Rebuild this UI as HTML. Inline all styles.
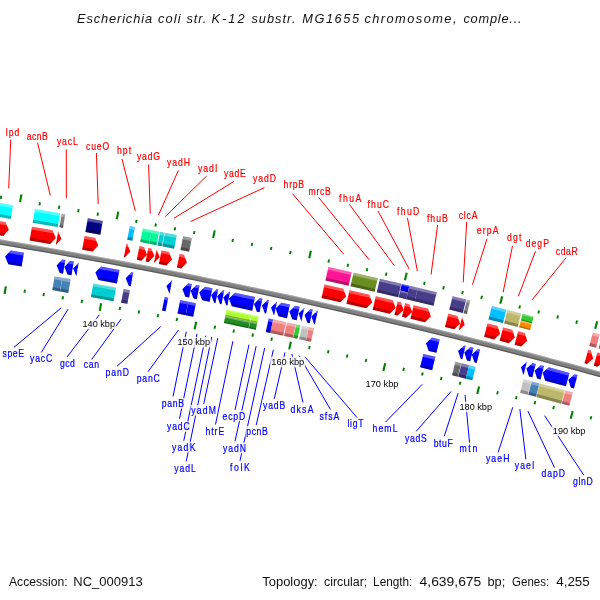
<!DOCTYPE html>
<html><head><meta charset="utf-8"><title>CGView map</title>
<style>html,body{margin:0;padding:0;background:#fff}svg{display:block}</style></head>
<body><svg width="600" height="600" viewBox="0 0 600 600">
<defs><mask id="m" maskUnits="userSpaceOnUse" x="0" y="0" width="600" height="600"><rect width="600" height="600" fill="#fff"/></mask></defs>
<rect width="600" height="600" fill="#fff"/>
<polygon points="-20.24,235.99 -3.58,238.73 13.07,241.51 29.71,244.35 46.34,247.23 62.96,250.16 79.58,253.13 96.18,256.16 112.78,259.23 129.37,262.35 145.95,265.51 162.52,268.72 179.08,271.98 195.63,275.29 212.18,278.64 228.71,282.04 245.23,285.49 261.75,288.99 278.25,292.53 294.74,296.12 311.23,299.76 327.70,303.44 344.16,307.17 360.61,310.95 377.05,314.77 393.48,318.64 409.90,322.56 426.31,326.52 442.70,330.54 459.09,334.59 475.46,338.70 491.82,342.85 508.17,347.05 524.51,351.29 540.83,355.58 557.15,359.92 573.45,364.30 589.73,368.73 606.01,373.21 622.27,377.73 620.82,382.93 604.57,378.41 588.31,373.94 572.04,369.52 555.75,365.14 539.45,360.80 523.14,356.52 506.82,352.28 490.49,348.08 474.14,343.93 457.78,339.83 441.41,335.78 425.03,331.77 408.64,327.81 392.24,323.90 375.82,320.03 359.40,316.21 342.96,312.44 326.51,308.71 310.06,305.03 293.59,301.40 277.11,297.81 260.62,294.27 244.12,290.78 227.61,287.33 211.10,283.93 194.57,280.58 178.03,277.28 161.49,274.02 144.93,270.81 128.36,267.65 111.79,264.54 95.21,261.47 78.62,258.45 62.02,255.47 45.41,252.55 28.79,249.67 12.17,246.84 -4.46,244.05 -21.11,241.32" fill="#808080"/>
<polygon points="-20.24,235.99 -3.58,238.73 13.07,241.51 29.71,244.35 46.34,247.23 62.96,250.16 79.58,253.13 96.18,256.16 112.78,259.23 129.37,262.35 145.95,265.51 162.52,268.72 179.08,271.98 195.63,275.29 212.18,278.64 228.71,282.04 245.23,285.49 261.75,288.99 278.25,292.53 294.74,296.12 311.23,299.76 327.70,303.44 344.16,307.17 360.61,310.95 377.05,314.77 393.48,318.64 409.90,322.56 426.31,326.52 442.70,330.54 459.09,334.59 475.46,338.70 491.82,342.85 508.17,347.05 524.51,351.29 540.83,355.58 557.15,359.92 573.45,364.30 589.73,368.73 606.01,373.21 622.27,377.73 621.97,378.79 605.72,374.27 589.44,369.79 573.16,365.36 556.86,360.98 540.55,356.65 524.23,352.36 507.90,348.11 491.55,343.91 475.19,339.76 458.82,335.66 442.44,331.60 426.05,327.59 409.64,323.63 393.23,319.71 376.80,315.84 360.37,312.02 343.92,308.24 327.46,304.51 310.99,300.83 294.51,297.19 278.02,293.61 261.52,290.06 245.01,286.57 228.49,283.12 211.96,279.72 195.42,276.37 178.87,273.06 162.31,269.80 145.74,266.59 129.16,263.43 112.58,260.31 95.98,257.24 79.38,254.22 62.77,251.24 46.15,248.31 29.52,245.43 12.88,242.60 -3.76,239.81 -20.41,237.07" fill="#fff" fill-opacity="0.3"/>
<polygon points="-20.90,240.03 -4.25,242.77 12.38,245.56 29.01,248.39 45.63,251.27 62.24,254.19 78.85,257.17 95.44,260.19 112.03,263.26 128.61,266.37 145.17,269.54 161.73,272.75 178.28,276.00 194.83,279.31 211.36,282.66 227.88,286.06 244.39,289.51 260.89,293.00 277.38,296.54 293.87,300.13 310.34,303.76 326.80,307.44 343.25,311.17 359.69,314.94 376.12,318.76 392.54,322.63 408.94,326.55 425.34,330.51 441.72,334.52 458.10,338.57 474.46,342.67 490.81,346.82 507.15,351.02 523.47,355.26 539.79,359.55 556.09,363.88 572.38,368.26 588.65,372.69 604.92,377.16 621.17,381.68 620.82,382.93 604.57,378.41 588.31,373.94 572.04,369.52 555.75,365.14 539.45,360.80 523.14,356.52 506.82,352.28 490.49,348.08 474.14,343.93 457.78,339.83 441.41,335.78 425.03,331.77 408.64,327.81 392.24,323.90 375.82,320.03 359.40,316.21 342.96,312.44 326.51,308.71 310.06,305.03 293.59,301.40 277.11,297.81 260.62,294.27 244.12,290.78 227.61,287.33 211.10,283.93 194.57,280.58 178.03,277.28 161.49,274.02 144.93,270.81 128.36,267.65 111.79,264.54 95.21,261.47 78.62,258.45 62.02,255.47 45.41,252.55 28.79,249.67 12.17,246.84 -4.46,244.05 -21.11,241.32" fill="#000" fill-opacity="0.3"/>
<polygon points="-3.75,220.71 5.53,222.25 8.84,229.82 3.25,235.91 -6.01,234.37" fill="#ff0000"/>
<polygon points="-3.75,220.71 5.53,222.25 6.93,225.43 -4.23,223.58" fill="#fff" fill-opacity="0.32"/>
<polygon points="-6.01,234.37 3.25,235.91 5.60,233.35 -5.54,231.50" fill="#000" fill-opacity="0.28"/>
<polygon points="-0.81,202.95 12.97,205.24 10.67,218.90 -3.07,216.61" fill="#00ffff"/>
<polygon points="-0.81,202.95 12.97,205.24 12.49,208.11 -1.29,205.82" fill="#fff" fill-opacity="0.32"/>
<polygon points="-2.60,213.74 11.16,216.03 10.67,218.90 -3.07,216.61" fill="#000" fill-opacity="0.28"/>
<polygon points="31.97,226.72 52.55,230.29 55.79,237.90 50.16,243.94 29.62,240.38" fill="#ff0000"/>
<polygon points="31.97,226.72 52.55,230.29 53.91,233.49 31.47,229.59" fill="#fff" fill-opacity="0.32"/>
<polygon points="29.62,240.38 50.16,243.94 52.52,241.40 30.12,237.51" fill="#000" fill-opacity="0.28"/>
<polygon points="35.01,208.98 60.12,213.35 57.71,226.99 32.67,222.63" fill="#00ffff"/>
<polygon points="35.01,208.98 60.12,213.35 59.61,216.21 34.52,211.85" fill="#fff" fill-opacity="0.32"/>
<polygon points="33.16,219.77 58.22,224.12 57.71,226.99 32.67,222.63" fill="#000" fill-opacity="0.28"/>
<polygon points="58.21,231.29 61.45,238.89 55.81,244.93" fill="#ff0000"/>
<polygon points="58.21,231.29 58.21,231.29 59.57,234.48 57.71,234.15" fill="#fff" fill-opacity="0.32"/>
<polygon points="55.81,244.93 55.81,244.93 58.17,242.39 56.31,242.07" fill="#000" fill-opacity="0.28"/>
<polygon points="61.82,213.65 65.31,214.27 62.90,227.90 59.41,227.29" fill="#808080"/>
<polygon points="61.82,213.65 65.31,214.27 64.81,217.13 61.31,216.51" fill="#fff" fill-opacity="0.32"/>
<polygon points="59.92,224.42 63.41,225.04 62.90,227.90 59.41,227.29" fill="#000" fill-opacity="0.28"/>
<polygon points="84.64,236.01 95.12,237.92 98.31,245.54 92.62,251.54 82.17,249.64" fill="#ff0000"/>
<polygon points="84.64,236.01 95.12,237.92 96.46,241.12 84.12,238.87" fill="#fff" fill-opacity="0.32"/>
<polygon points="82.17,249.64 92.62,251.54 95.01,249.02 82.69,246.78" fill="#000" fill-opacity="0.28"/>
<polygon points="87.85,218.30 102.81,221.02 100.31,234.65 85.38,231.93" fill="#000080"/>
<polygon points="87.85,218.30 102.81,221.02 102.28,223.89 87.33,221.16" fill="#fff" fill-opacity="0.32"/>
<polygon points="85.90,229.06 100.83,231.79 100.31,234.65 85.38,231.93" fill="#000" fill-opacity="0.28"/>
<polygon points="126.46,243.73 127.18,243.87 130.33,251.51 124.61,257.48 123.90,257.34" fill="#ff0000"/>
<polygon points="126.46,243.73 127.18,243.87 128.50,247.08 125.93,246.59" fill="#fff" fill-opacity="0.32"/>
<polygon points="123.90,257.34 124.61,257.48 127.01,254.97 124.44,254.49" fill="#000" fill-opacity="0.28"/>
<polygon points="129.80,226.04 134.96,227.02 132.39,240.63 127.23,239.65" fill="#00bfff"/>
<polygon points="129.80,226.04 134.96,227.02 134.42,229.88 129.26,228.90" fill="#fff" fill-opacity="0.32"/>
<polygon points="127.77,236.80 132.93,237.77 132.39,240.63 127.23,239.65" fill="#000" fill-opacity="0.28"/>
<polygon points="139.42,246.19 143.88,247.04 147.01,254.69 141.28,260.64 136.83,259.79" fill="#ff0000"/>
<polygon points="139.42,246.19 143.88,247.04 145.20,250.25 138.88,249.04" fill="#fff" fill-opacity="0.32"/>
<polygon points="136.83,259.79 141.28,260.64 143.68,258.14 137.37,256.94" fill="#000" fill-opacity="0.28"/>
<polygon points="142.79,228.51 151.71,230.21 149.10,243.81 140.20,242.11" fill="#00fa9a"/>
<polygon points="142.79,228.51 151.71,230.21 151.17,233.07 142.25,231.36" fill="#fff" fill-opacity="0.32"/>
<polygon points="140.74,239.25 149.65,240.96 149.10,243.81 140.20,242.11" fill="#000" fill-opacity="0.28"/>
<polygon points="148.29,247.88 151.25,248.45 154.37,256.11 148.63,262.05 145.67,261.49" fill="#ff0000"/>
<polygon points="148.29,247.88 151.25,248.45 152.56,251.67 147.74,250.74" fill="#fff" fill-opacity="0.32"/>
<polygon points="145.67,261.49 148.63,262.05 151.04,259.56 146.22,258.63" fill="#000" fill-opacity="0.28"/>
<polygon points="151.69,230.21 159.10,231.64 156.47,245.24 149.07,243.81" fill="#00fa9a"/>
<polygon points="151.69,230.21 159.10,231.64 158.55,234.49 151.14,233.06" fill="#fff" fill-opacity="0.32"/>
<polygon points="149.62,240.95 157.02,242.38 156.47,245.24 149.07,243.81" fill="#000" fill-opacity="0.28"/>
<polygon points="156.59,249.49 159.70,257.14 153.95,263.08" fill="#ff0000"/>
<polygon points="156.59,249.49 156.59,249.49 157.90,252.70 156.03,252.34" fill="#fff" fill-opacity="0.32"/>
<polygon points="153.95,263.08 153.95,263.08 156.37,260.59 154.51,260.23" fill="#000" fill-opacity="0.28"/>
<polygon points="160.11,231.83 164.35,232.66 161.71,246.25 157.48,245.43" fill="#00ced1"/>
<polygon points="160.11,231.83 164.35,232.66 163.80,235.51 159.56,234.69" fill="#fff" fill-opacity="0.32"/>
<polygon points="158.03,242.58 162.26,243.40 161.71,246.25 157.48,245.43" fill="#000" fill-opacity="0.28"/>
<polygon points="161.53,250.45 168.90,251.88 171.99,259.55 166.24,265.48 158.89,264.04" fill="#ff0000"/>
<polygon points="161.53,250.45 168.90,251.88 170.20,255.10 160.98,253.30" fill="#fff" fill-opacity="0.32"/>
<polygon points="158.89,264.04 166.24,265.48 168.65,262.99 159.44,261.19" fill="#000" fill-opacity="0.28"/>
<polygon points="164.97,232.78 176.80,235.09 174.13,248.68 162.32,246.37" fill="#00ced1"/>
<polygon points="164.97,232.78 176.80,235.09 176.24,237.95 164.41,235.63" fill="#fff" fill-opacity="0.32"/>
<polygon points="162.88,243.52 174.69,245.83 174.13,248.68 162.32,246.37" fill="#000" fill-opacity="0.28"/>
<polygon points="179.64,254.00 183.87,254.84 186.94,262.51 181.17,268.42 176.96,267.59" fill="#ff0000"/>
<polygon points="179.64,254.00 183.87,254.84 185.16,258.06 179.08,256.85" fill="#fff" fill-opacity="0.32"/>
<polygon points="176.96,267.59 181.17,268.42 183.60,265.94 177.52,264.73" fill="#000" fill-opacity="0.28"/>
<polygon points="183.14,236.34 191.82,238.06 189.11,251.65 180.45,249.93" fill="#696969"/>
<polygon points="183.14,236.34 191.82,238.06 191.25,240.92 182.57,239.19" fill="#fff" fill-opacity="0.32"/>
<polygon points="181.01,247.07 189.68,248.80 189.11,251.65 180.45,249.93" fill="#000" fill-opacity="0.28"/>
<polygon points="324.52,284.54 343.30,288.77 346.16,296.52 340.23,302.27 321.50,298.05" fill="#ff0000"/>
<polygon points="324.52,284.54 343.30,288.77 344.50,292.03 323.89,287.37" fill="#fff" fill-opacity="0.32"/>
<polygon points="321.50,298.05 340.23,302.27 342.72,299.86 322.13,295.21" fill="#000" fill-opacity="0.28"/>
<polygon points="328.46,266.97 351.70,272.22 348.62,285.73 325.43,280.49" fill="#ff1493"/>
<polygon points="328.46,266.97 351.70,272.22 351.05,275.06 327.82,269.81" fill="#fff" fill-opacity="0.32"/>
<polygon points="326.07,277.65 349.27,282.89 348.62,285.73 325.43,280.49" fill="#000" fill-opacity="0.28"/>
<polygon points="349.57,290.20 369.32,294.74 372.15,302.51 366.19,308.24 346.49,303.70" fill="#ff0000"/>
<polygon points="349.57,290.20 369.32,294.74 370.51,298.01 348.92,293.03" fill="#fff" fill-opacity="0.32"/>
<polygon points="346.49,303.70 366.19,308.24 368.70,305.83 347.13,300.86" fill="#000" fill-opacity="0.28"/>
<polygon points="353.58,272.65 377.80,278.24 374.66,291.72 350.49,286.15" fill="#6b8e23"/>
<polygon points="353.58,272.65 377.80,278.24 377.14,281.07 352.93,275.49" fill="#fff" fill-opacity="0.32"/>
<polygon points="351.14,283.32 375.32,288.89 374.66,291.72 350.49,286.15" fill="#000" fill-opacity="0.28"/>
<polygon points="375.82,296.25 392.78,300.24 395.58,308.01 389.60,313.72 372.67,309.74" fill="#ff0000"/>
<polygon points="375.82,296.25 392.78,300.24 393.96,303.50 375.16,299.09" fill="#fff" fill-opacity="0.32"/>
<polygon points="372.67,309.74 389.60,313.72 392.11,311.32 373.33,306.91" fill="#000" fill-opacity="0.28"/>
<polygon points="379.90,278.73 401.33,283.76 398.13,297.24 376.76,292.21" fill="#483d8b"/>
<polygon points="379.90,278.73 401.33,283.76 400.66,286.59 379.24,281.56" fill="#fff" fill-opacity="0.32"/>
<polygon points="377.42,289.38 398.80,294.41 398.13,297.24 376.76,292.21" fill="#000" fill-opacity="0.28"/>
<polygon points="397.66,301.39 400.85,302.15 403.64,309.93 397.65,315.62 394.47,314.87" fill="#ff0000"/>
<polygon points="397.66,301.39 400.85,302.15 402.02,305.42 396.99,304.22" fill="#fff" fill-opacity="0.32"/>
<polygon points="394.47,314.87 397.65,315.62 400.16,313.23 395.14,312.04" fill="#000" fill-opacity="0.28"/>
<polygon points="401.81,283.88 409.42,285.69 407.82,292.42 400.22,290.61" fill="#0000ff"/>
<polygon points="401.81,283.88 409.42,285.69 409.08,287.10 401.48,285.29" fill="#fff" fill-opacity="0.32"/>
<polygon points="400.55,289.20 408.15,291.01 407.82,292.42 400.22,290.61" fill="#000" fill-opacity="0.28"/>
<polygon points="400.22,290.61 407.82,292.42 406.21,299.16 398.62,297.35" fill="#483d8b"/>
<polygon points="400.22,290.61 407.82,292.42 407.48,293.84 399.88,292.03" fill="#fff" fill-opacity="0.32"/>
<polygon points="398.95,295.94 406.55,297.74 406.21,299.16 398.62,297.35" fill="#000" fill-opacity="0.28"/>
<polygon points="405.25,303.19 409.32,304.17 412.10,311.95 406.10,317.64 402.03,316.67" fill="#ff0000"/>
<polygon points="405.25,303.19 409.32,304.17 410.49,307.44 404.57,306.02" fill="#fff" fill-opacity="0.32"/>
<polygon points="402.03,316.67 406.10,317.64 408.62,315.25 402.71,313.84" fill="#000" fill-opacity="0.28"/>
<polygon points="409.42,285.69 417.91,287.72 414.68,301.19 406.21,299.16" fill="#483d8b"/>
<polygon points="409.42,285.69 417.91,287.72 417.24,290.55 408.75,288.51" fill="#fff" fill-opacity="0.32"/>
<polygon points="406.88,296.33 415.36,298.36 414.68,301.19 406.21,299.16" fill="#000" fill-opacity="0.28"/>
<polygon points="413.68,305.21 428.14,308.70 430.89,316.50 424.87,322.16 410.45,318.68" fill="#ff0000"/>
<polygon points="413.68,305.21 428.14,308.70 429.30,311.98 413.01,308.04" fill="#fff" fill-opacity="0.32"/>
<polygon points="410.45,318.68 424.87,322.16 427.40,319.78 411.13,315.85" fill="#000" fill-opacity="0.28"/>
<polygon points="417.89,287.71 436.79,292.28 433.51,305.74 414.65,301.18" fill="#483d8b"/>
<polygon points="417.89,287.71 436.79,292.28 436.10,295.11 417.21,290.54" fill="#fff" fill-opacity="0.32"/>
<polygon points="415.33,298.35 434.20,302.91 433.51,305.74 414.65,301.18" fill="#000" fill-opacity="0.28"/>
<polygon points="448.33,313.64 457.44,315.89 460.15,323.70 454.10,329.34 445.02,327.09" fill="#ff0000"/>
<polygon points="448.33,313.64 457.44,315.89 458.58,319.17 447.63,316.46" fill="#fff" fill-opacity="0.32"/>
<polygon points="445.02,327.09 454.10,329.34 456.64,326.97 445.71,324.26" fill="#000" fill-opacity="0.28"/>
<polygon points="452.64,296.16 466.17,299.51 462.82,312.95 449.32,309.61" fill="#483d8b"/>
<polygon points="452.64,296.16 466.17,299.51 465.47,302.34 451.94,298.99" fill="#fff" fill-opacity="0.32"/>
<polygon points="450.02,306.79 463.53,310.13 462.82,312.95 449.32,309.61" fill="#000" fill-opacity="0.28"/>
<polygon points="462.04,317.04 464.74,324.85 458.70,330.48" fill="#ff0000"/>
<polygon points="462.04,317.04 462.04,317.04 463.18,320.32 461.34,319.86" fill="#fff" fill-opacity="0.32"/>
<polygon points="458.70,330.48 458.70,330.48 461.23,328.11 459.40,327.65" fill="#000" fill-opacity="0.28"/>
<polygon points="466.95,299.71 470.22,300.53 466.87,313.96 463.60,313.15" fill="#808080"/>
<polygon points="466.95,299.71 470.22,300.53 469.52,303.35 466.25,302.53" fill="#fff" fill-opacity="0.32"/>
<polygon points="464.31,310.33 467.57,311.14 466.87,313.96 463.60,313.15" fill="#000" fill-opacity="0.28"/>
<polygon points="487.52,323.44 497.53,325.99 500.18,333.81 494.10,339.40 484.12,336.86" fill="#ff0000"/>
<polygon points="487.52,323.44 497.53,325.99 498.64,329.27 486.81,326.26" fill="#fff" fill-opacity="0.32"/>
<polygon points="484.12,336.86 494.10,339.40 496.65,337.06 484.83,334.04" fill="#000" fill-opacity="0.28"/>
<polygon points="491.95,305.99 506.37,309.67 502.93,323.09 488.54,319.42" fill="#00bfff"/>
<polygon points="491.95,305.99 506.37,309.67 505.65,312.49 491.23,308.81" fill="#fff" fill-opacity="0.32"/>
<polygon points="489.26,316.60 503.65,320.27 502.93,323.09 488.54,319.42" fill="#000" fill-opacity="0.28"/>
<polygon points="503.13,327.42 512.25,329.77 514.88,337.60 508.79,343.18 499.69,340.84" fill="#ff0000"/>
<polygon points="503.13,327.42 512.25,329.77 513.36,333.06 502.41,330.24" fill="#fff" fill-opacity="0.32"/>
<polygon points="499.69,340.84 508.79,343.18 511.35,340.83 500.41,338.02" fill="#000" fill-opacity="0.28"/>
<polygon points="507.60,309.99 521.13,313.47 517.66,326.88 504.16,323.40" fill="#bdb76b"/>
<polygon points="507.60,309.99 521.13,313.47 520.40,316.29 506.88,312.80" fill="#fff" fill-opacity="0.32"/>
<polygon points="504.89,320.58 518.39,324.06 517.66,326.88 504.16,323.40" fill="#000" fill-opacity="0.28"/>
<polygon points="518.09,331.28 524.67,332.99 527.29,340.83 521.18,346.39 514.61,344.68" fill="#ff0000"/>
<polygon points="518.09,331.28 524.67,332.99 525.77,336.28 517.36,334.09" fill="#fff" fill-opacity="0.32"/>
<polygon points="514.61,344.68 521.18,346.39 523.74,344.05 515.34,341.87" fill="#000" fill-opacity="0.28"/>
<polygon points="522.61,313.85 533.59,316.71 531.84,323.41 520.87,320.56" fill="#32cd32"/>
<polygon points="522.61,313.85 533.59,316.71 533.22,318.12 522.24,315.26" fill="#fff" fill-opacity="0.32"/>
<polygon points="521.23,319.15 532.21,322.01 531.84,323.41 520.87,320.56" fill="#000" fill-opacity="0.28"/>
<polygon points="520.87,320.56 531.84,323.41 530.09,330.11 519.13,327.26" fill="#ff8c00"/>
<polygon points="520.87,320.56 531.84,323.41 531.47,324.82 520.50,321.97" fill="#fff" fill-opacity="0.32"/>
<polygon points="519.49,325.85 530.46,328.71 530.09,330.11 519.13,327.26" fill="#000" fill-opacity="0.28"/>
<polygon points="588.15,349.90 590.63,350.58 593.16,358.45 586.99,363.94 584.51,363.26" fill="#ff0000"/>
<polygon points="588.15,349.90 590.63,350.58 591.70,353.88 587.38,352.71" fill="#fff" fill-opacity="0.32"/>
<polygon points="584.51,363.26 586.99,363.94 589.58,361.63 585.27,360.46" fill="#000" fill-opacity="0.28"/>
<polygon points="592.88,332.53 599.74,334.41 596.08,347.77 589.24,345.90" fill="#f08080"/>
<polygon points="592.88,332.53 599.74,334.41 598.97,337.21 592.11,335.34" fill="#fff" fill-opacity="0.32"/>
<polygon points="590.00,343.09 596.85,344.96 596.08,347.77 589.24,345.90" fill="#000" fill-opacity="0.28"/>
<polygon points="597.42,352.44 601.10,353.44 603.61,361.32 597.43,366.80 593.76,365.79" fill="#ff0000"/>
<polygon points="597.42,352.44 601.10,353.44 602.15,356.75 596.65,355.24" fill="#fff" fill-opacity="0.32"/>
<polygon points="593.76,365.79 597.43,366.80 600.02,364.50 594.53,362.99" fill="#000" fill-opacity="0.28"/>
<polygon points="602.18,335.08 610.23,337.29 606.55,350.64 598.52,348.43" fill="#f08080"/>
<polygon points="602.18,335.08 610.23,337.29 609.46,340.09 601.41,337.88" fill="#fff" fill-opacity="0.32"/>
<polygon points="599.29,345.63 607.32,347.84 606.55,350.64 598.52,348.43" fill="#000" fill-opacity="0.28"/>
<polygon points="23.98,252.80 10.63,250.53 5.05,256.62 8.32,264.19 21.65,266.45" fill="#0000ff"/>
<polygon points="23.98,252.80 10.63,250.53 8.28,253.09 23.49,255.67" fill="#fff" fill-opacity="0.32"/>
<polygon points="21.65,266.45 8.32,264.19 6.95,261.01 22.14,263.59" fill="#000" fill-opacity="0.28"/>
<polygon points="65.44,260.04 62.25,259.48 56.62,265.51 59.83,273.11 63.01,273.68" fill="#0000ff"/>
<polygon points="65.44,260.04 62.25,259.48 59.89,262.01 64.93,262.91" fill="#fff" fill-opacity="0.32"/>
<polygon points="63.01,273.68 59.83,273.11 58.48,269.92 63.52,270.82" fill="#000" fill-opacity="0.28"/>
<polygon points="54.69,276.42 62.28,277.76 59.85,291.40 52.28,290.05" fill="#4682b4"/>
<polygon points="54.69,276.42 62.28,277.76 61.77,280.63 54.18,279.28" fill="#fff" fill-opacity="0.32"/>
<polygon points="52.78,287.19 60.36,288.54 59.85,291.40 52.28,290.05" fill="#000" fill-opacity="0.28"/>
<polygon points="73.89,261.56 70.02,260.86 64.38,266.89 67.57,274.50 71.44,275.19" fill="#0000ff"/>
<polygon points="73.89,261.56 70.02,260.86 67.65,263.39 73.38,264.42" fill="#fff" fill-opacity="0.32"/>
<polygon points="71.44,275.19 67.57,274.50 66.23,271.30 71.96,272.33" fill="#000" fill-opacity="0.28"/>
<polygon points="62.43,277.79 70.71,279.27 68.25,292.91 60.00,291.43" fill="#4682b4"/>
<polygon points="62.43,277.79 70.71,279.27 70.19,282.14 61.92,280.65" fill="#fff" fill-opacity="0.32"/>
<polygon points="60.51,288.56 68.77,290.04 68.25,292.91 60.00,291.43" fill="#000" fill-opacity="0.28"/>
<polygon points="78.78,262.44 73.13,268.46 76.32,276.07" fill="#0000ff"/>
<polygon points="78.78,262.44 78.78,262.44 76.41,264.97 78.27,265.30" fill="#fff" fill-opacity="0.32"/>
<polygon points="76.32,276.07 76.32,276.07 74.98,272.87 76.84,273.21" fill="#000" fill-opacity="0.28"/>
<polygon points="119.49,269.94 101.03,266.50 95.35,272.50 98.51,280.12 116.93,283.56" fill="#0000ff"/>
<polygon points="119.49,269.94 101.03,266.50 98.64,269.02 118.95,272.80" fill="#fff" fill-opacity="0.32"/>
<polygon points="116.93,283.56 98.51,280.12 97.19,276.92 117.47,280.70" fill="#000" fill-opacity="0.28"/>
<polygon points="93.35,283.39 116.16,287.63 113.60,301.25 90.85,297.01" fill="#00ced1"/>
<polygon points="93.35,283.39 116.16,287.63 115.62,290.49 92.83,286.25" fill="#fff" fill-opacity="0.32"/>
<polygon points="91.37,294.15 114.14,298.39 113.60,301.25 90.85,297.01" fill="#000" fill-opacity="0.28"/>
<polygon points="133.31,272.56 131.40,272.20 125.69,278.16 128.81,285.80 130.72,286.17" fill="#0000ff"/>
<polygon points="133.31,272.56 131.40,272.20 129.00,274.70 132.77,275.42" fill="#fff" fill-opacity="0.32"/>
<polygon points="130.72,286.17 128.81,285.80 127.50,282.59 131.27,283.31" fill="#000" fill-opacity="0.28"/>
<polygon points="123.63,289.04 129.94,290.24 127.35,303.85 121.05,302.65" fill="#483d8b"/>
<polygon points="123.63,289.04 129.94,290.24 129.40,293.10 123.09,291.90" fill="#fff" fill-opacity="0.32"/>
<polygon points="121.60,299.79 127.90,300.99 127.35,303.85 121.05,302.65" fill="#000" fill-opacity="0.28"/>
<polygon points="172.17,280.10 166.42,286.02 169.49,293.68" fill="#0000ff"/>
<polygon points="172.17,280.10 172.17,280.10 169.75,282.58 171.60,282.95" fill="#fff" fill-opacity="0.32"/>
<polygon points="169.49,293.68 169.49,293.68 168.20,290.46 170.05,290.83" fill="#000" fill-opacity="0.28"/>
<polygon points="164.67,296.96 168.29,297.68 165.61,311.27 162.00,310.55" fill="#0000ff"/>
<polygon points="164.67,296.96 168.29,297.68 167.73,300.53 164.11,299.82" fill="#fff" fill-opacity="0.32"/>
<polygon points="162.56,307.70 166.18,308.41 165.61,311.27 162.00,310.55" fill="#000" fill-opacity="0.28"/>
<polygon points="191.84,284.01 188.13,283.27 182.36,289.18 185.41,296.85 189.11,297.59" fill="#0000ff"/>
<polygon points="191.84,284.01 188.13,283.27 185.70,285.75 191.27,286.86" fill="#fff" fill-opacity="0.32"/>
<polygon points="189.11,297.59 185.41,296.85 184.13,293.63 189.69,294.74" fill="#000" fill-opacity="0.28"/>
<polygon points="180.20,300.04 188.30,301.66 185.57,315.24 177.49,313.62" fill="#0000ff"/>
<polygon points="180.20,300.04 188.30,301.66 187.72,304.51 179.63,302.89" fill="#fff" fill-opacity="0.32"/>
<polygon points="178.06,310.77 186.14,312.39 185.57,315.24 177.49,313.62" fill="#000" fill-opacity="0.28"/>
<polygon points="199.54,285.56 196.36,284.92 190.59,290.83 193.62,298.50 196.79,299.14" fill="#0000ff"/>
<polygon points="199.54,285.56 196.36,284.92 193.94,287.40 198.96,288.42" fill="#fff" fill-opacity="0.32"/>
<polygon points="196.79,299.14 193.62,298.50 192.35,295.28 197.37,296.29" fill="#000" fill-opacity="0.28"/>
<polygon points="188.41,301.68 195.97,303.21 193.22,316.78 185.68,315.26" fill="#0000ff"/>
<polygon points="188.41,301.68 195.97,303.21 195.39,306.06 187.84,304.54" fill="#fff" fill-opacity="0.32"/>
<polygon points="186.26,312.41 193.80,313.93 193.22,316.78 185.68,315.26" fill="#000" fill-opacity="0.28"/>
<polygon points="212.44,288.19 205.03,286.68 199.25,292.57 202.27,300.25 209.66,301.76" fill="#0000ff"/>
<polygon points="212.44,288.19 205.03,286.68 202.60,289.15 211.85,291.04" fill="#fff" fill-opacity="0.32"/>
<polygon points="209.66,301.76 202.27,300.25 201.00,297.03 210.24,298.91" fill="#000" fill-opacity="0.28"/>
<polygon points="218.24,289.38 216.95,289.12 211.16,295.00 214.17,302.68 215.45,302.94" fill="#0000ff"/>
<polygon points="218.24,289.38 216.95,289.12 214.52,291.58 217.65,292.23" fill="#fff" fill-opacity="0.32"/>
<polygon points="215.45,302.94 214.17,302.68 212.91,299.45 216.03,300.10" fill="#000" fill-opacity="0.28"/>
<polygon points="224.26,290.62 222.90,290.34 217.10,296.21 220.09,303.90 221.46,304.18" fill="#0000ff"/>
<polygon points="224.26,290.62 222.90,290.34 220.46,292.81 223.67,293.47" fill="#fff" fill-opacity="0.32"/>
<polygon points="221.46,304.18 220.09,303.90 218.84,300.67 222.05,301.34" fill="#000" fill-opacity="0.28"/>
<polygon points="230.16,291.84 229.14,291.63 223.34,297.50 226.33,305.19 227.35,305.41" fill="#0000ff"/>
<polygon points="230.16,291.84 229.14,291.63 226.70,294.10 229.57,294.69" fill="#fff" fill-opacity="0.32"/>
<polygon points="227.35,305.41 226.33,305.19 225.07,301.96 227.94,302.56" fill="#000" fill-opacity="0.28"/>
<polygon points="255.07,297.08 234.73,292.79 228.92,298.66 231.90,306.35 252.20,310.63" fill="#0000ff"/>
<polygon points="255.07,297.08 234.73,292.79 232.29,295.26 254.47,299.92" fill="#fff" fill-opacity="0.32"/>
<polygon points="252.20,310.63 231.90,306.35 230.65,303.12 252.80,307.78" fill="#000" fill-opacity="0.28"/>
<polygon points="226.66,309.50 251.34,314.68 249.90,321.46 225.25,316.28" fill="#adff2f"/>
<polygon points="226.66,309.50 251.34,314.68 251.03,316.11 226.37,310.93" fill="#fff" fill-opacity="0.32"/>
<polygon points="225.55,314.86 250.20,320.04 249.90,321.46 225.25,316.28" fill="#000" fill-opacity="0.28"/>
<polygon points="225.25,316.28 249.90,321.46 248.46,328.23 223.85,323.06" fill="#228b22"/>
<polygon points="225.25,316.28 249.90,321.46 249.60,322.88 224.96,317.71" fill="#fff" fill-opacity="0.32"/>
<polygon points="224.14,321.64 248.76,326.81 248.46,328.23 223.85,323.06" fill="#000" fill-opacity="0.28"/>
<polygon points="262.45,298.65 259.80,298.08 253.97,303.92 256.92,311.63 259.56,312.19" fill="#0000ff"/>
<polygon points="262.45,298.65 259.80,298.08 257.35,300.53 261.85,301.49" fill="#fff" fill-opacity="0.32"/>
<polygon points="259.56,312.19 256.92,311.63 255.68,308.39 260.17,309.35" fill="#000" fill-opacity="0.28"/>
<polygon points="251.67,314.76 258.69,316.25 257.25,323.02 250.23,321.53" fill="#adff2f"/>
<polygon points="251.67,314.76 258.69,316.25 258.39,317.67 251.37,316.18" fill="#fff" fill-opacity="0.32"/>
<polygon points="250.53,320.11 257.55,321.60 257.25,323.02 250.23,321.53" fill="#000" fill-opacity="0.28"/>
<polygon points="250.23,321.53 257.25,323.02 255.80,329.80 248.79,328.30" fill="#228b22"/>
<polygon points="250.23,321.53 257.25,323.02 256.94,324.45 249.93,322.95" fill="#fff" fill-opacity="0.32"/>
<polygon points="249.09,326.88 256.10,328.37 255.80,329.80 248.79,328.30" fill="#000" fill-opacity="0.28"/>
<polygon points="268.95,300.04 267.78,299.79 261.94,305.62 264.88,313.33 266.04,313.58" fill="#0000ff"/>
<polygon points="268.95,300.04 267.78,299.79 265.33,302.24 268.34,302.88" fill="#fff" fill-opacity="0.32"/>
<polygon points="266.04,313.58 264.88,313.33 263.65,310.09 266.65,310.74" fill="#000" fill-opacity="0.28"/>
<polygon points="277.03,301.78 276.86,301.75 271.01,307.57 273.94,315.28 274.10,315.32" fill="#0000ff"/>
<polygon points="277.03,301.78 276.86,301.75 274.41,304.19 276.41,304.62" fill="#fff" fill-opacity="0.32"/>
<polygon points="274.10,315.32 273.94,315.28 272.71,312.04 274.72,312.48" fill="#000" fill-opacity="0.28"/>
<polygon points="268.68,318.39 273.22,319.38 270.30,332.91 265.76,331.93" fill="#0000ff"/>
<polygon points="268.68,318.39 273.22,319.38 272.61,322.22 268.07,321.24" fill="#fff" fill-opacity="0.32"/>
<polygon points="266.38,329.09 270.91,330.07 270.30,332.91 265.76,331.93" fill="#000" fill-opacity="0.28"/>
<polygon points="289.98,304.60 281.39,302.73 275.54,308.54 278.46,316.26 287.02,318.13" fill="#0000ff"/>
<polygon points="289.98,304.60 281.39,302.73 278.93,305.17 289.36,307.44" fill="#fff" fill-opacity="0.32"/>
<polygon points="287.02,318.13 278.46,316.26 277.23,313.02 287.64,315.29" fill="#000" fill-opacity="0.28"/>
<polygon points="273.20,319.37 286.14,322.18 283.18,335.71 270.27,332.91" fill="#f08080"/>
<polygon points="273.20,319.37 286.14,322.18 285.51,325.02 272.58,322.21" fill="#fff" fill-opacity="0.32"/>
<polygon points="270.88,330.06 283.80,332.87 283.18,335.71 270.27,332.91" fill="#000" fill-opacity="0.28"/>
<polygon points="299.67,306.72 295.25,305.75 289.38,311.56 292.28,319.28 296.69,320.25" fill="#0000ff"/>
<polygon points="299.67,306.72 295.25,305.75 292.79,308.19 299.05,309.57" fill="#fff" fill-opacity="0.32"/>
<polygon points="296.69,320.25 292.28,319.28 291.07,316.04 297.32,317.41" fill="#000" fill-opacity="0.28"/>
<polygon points="287.02,322.38 295.80,324.30 292.82,337.83 284.06,335.91" fill="#f08080"/>
<polygon points="287.02,322.38 295.80,324.30 295.17,327.14 286.40,325.22" fill="#fff" fill-opacity="0.32"/>
<polygon points="284.68,333.06 293.44,334.99 292.82,337.83 284.06,335.91" fill="#000" fill-opacity="0.28"/>
<polygon points="304.38,307.76 298.50,313.56 301.39,321.29" fill="#0000ff"/>
<polygon points="304.38,307.76 304.38,307.76 301.91,310.20 303.75,310.60" fill="#fff" fill-opacity="0.32"/>
<polygon points="301.39,321.29 301.39,321.29 300.18,318.04 302.02,318.45" fill="#000" fill-opacity="0.28"/>
<polygon points="296.15,324.38 300.46,325.33 297.47,338.86 293.17,337.91" fill="#32cd32"/>
<polygon points="296.15,324.38 300.46,325.33 299.83,328.17 295.52,327.22" fill="#fff" fill-opacity="0.32"/>
<polygon points="293.79,335.07 298.10,336.02 297.47,338.86 293.17,337.91" fill="#000" fill-opacity="0.28"/>
<polygon points="312.73,309.62 310.43,309.11 304.54,314.89 307.42,322.63 309.72,323.14" fill="#0000ff"/>
<polygon points="312.73,309.62 310.43,309.11 307.96,311.54 312.10,312.46" fill="#fff" fill-opacity="0.32"/>
<polygon points="309.72,323.14 307.42,322.63 306.22,319.38 310.35,320.30" fill="#000" fill-opacity="0.28"/>
<polygon points="302.15,325.71 308.82,327.19 305.81,340.71 299.15,339.23" fill="#c0c0c0"/>
<polygon points="302.15,325.71 308.82,327.19 308.19,330.03 301.52,328.55" fill="#fff" fill-opacity="0.32"/>
<polygon points="299.78,336.39 306.44,337.87 305.81,340.71 299.15,339.23" fill="#000" fill-opacity="0.28"/>
<polygon points="317.91,310.78 317.26,310.63 311.37,316.41 314.24,324.15 314.89,324.29" fill="#0000ff"/>
<polygon points="317.91,310.78 317.26,310.63 314.79,313.06 317.28,313.61" fill="#fff" fill-opacity="0.32"/>
<polygon points="314.89,324.29 314.24,324.15 313.04,320.90 315.52,321.45" fill="#000" fill-opacity="0.28"/>
<polygon points="308.96,327.22 313.98,328.34 310.96,341.86 305.95,340.74" fill="#f08080"/>
<polygon points="308.96,327.22 313.98,328.34 313.35,331.18 308.33,330.06" fill="#fff" fill-opacity="0.32"/>
<polygon points="306.58,337.90 311.59,339.02 310.96,341.86 305.95,340.74" fill="#000" fill-opacity="0.28"/>
<polygon points="439.73,339.38 431.99,337.48 425.98,343.14 428.70,350.94 436.42,352.83" fill="#0000ff"/>
<polygon points="439.73,339.38 431.99,337.48 429.47,339.86 439.03,342.21" fill="#fff" fill-opacity="0.32"/>
<polygon points="436.42,352.83 428.70,350.94 427.56,347.66 437.12,350.01" fill="#000" fill-opacity="0.28"/>
<polygon points="423.36,353.90 435.43,356.86 432.12,370.31 420.08,367.36" fill="#0000ff"/>
<polygon points="423.36,353.90 435.43,356.86 434.73,359.68 422.67,356.73" fill="#fff" fill-opacity="0.32"/>
<polygon points="420.77,364.53 432.82,367.48 432.12,370.31 420.08,367.36" fill="#000" fill-opacity="0.28"/>
<polygon points="465.64,345.82 464.12,345.44 458.08,351.06 460.75,358.87 462.27,359.25" fill="#0000ff"/>
<polygon points="465.64,345.82 464.12,345.44 461.58,347.80 464.93,348.64" fill="#fff" fill-opacity="0.32"/>
<polygon points="462.27,359.25 460.75,358.87 459.63,355.59 462.98,356.43" fill="#000" fill-opacity="0.28"/>
<polygon points="455.40,361.81 461.26,363.28 457.89,376.71 452.04,375.25" fill="#696969"/>
<polygon points="455.40,361.81 461.26,363.28 460.56,366.10 454.69,364.63" fill="#fff" fill-opacity="0.32"/>
<polygon points="452.74,372.42 458.60,373.89 457.89,376.71 452.04,375.25" fill="#000" fill-opacity="0.28"/>
<polygon points="473.55,347.81 470.36,347.00 464.32,352.62 466.98,360.43 470.17,361.24" fill="#0000ff"/>
<polygon points="473.55,347.81 470.36,347.00 467.82,349.36 472.84,350.63" fill="#fff" fill-opacity="0.32"/>
<polygon points="470.17,361.24 466.98,360.43 465.86,357.15 470.88,358.42" fill="#000" fill-opacity="0.28"/>
<polygon points="461.62,363.37 469.15,365.26 465.76,378.69 458.25,376.80" fill="#483d8b"/>
<polygon points="461.62,363.37 469.15,365.26 468.44,368.08 460.91,366.19" fill="#fff" fill-opacity="0.32"/>
<polygon points="458.96,373.98 466.48,375.87 465.76,378.69 458.25,376.80" fill="#000" fill-opacity="0.28"/>
<polygon points="480.08,349.46 477.85,348.89 471.79,354.51 474.45,362.32 476.67,362.88" fill="#0000ff"/>
<polygon points="480.08,349.46 477.85,348.89 475.30,351.25 479.36,352.28" fill="#fff" fill-opacity="0.32"/>
<polygon points="476.67,362.88 474.45,362.32 473.34,359.04 477.39,360.06" fill="#000" fill-opacity="0.28"/>
<polygon points="469.09,365.24 475.66,366.91 472.25,380.33 465.70,378.67" fill="#00bfff"/>
<polygon points="469.09,365.24 475.66,366.91 474.94,369.73 468.37,368.06" fill="#fff" fill-opacity="0.32"/>
<polygon points="466.41,375.85 472.97,377.51 472.25,380.33 465.70,378.67" fill="#000" fill-opacity="0.28"/>
<polygon points="527.03,361.56 520.93,367.13 523.52,374.96" fill="#0000ff"/>
<polygon points="527.03,361.56 527.03,361.56 524.47,363.90 526.29,364.38" fill="#fff" fill-opacity="0.32"/>
<polygon points="523.52,374.96 523.52,374.96 522.43,371.67 524.26,372.15" fill="#000" fill-opacity="0.28"/>
<polygon points="535.85,363.88 532.55,363.01 526.44,368.57 529.02,376.41 532.31,377.28" fill="#0000ff"/>
<polygon points="535.85,363.88 532.55,363.01 529.98,365.35 535.11,366.70" fill="#fff" fill-opacity="0.32"/>
<polygon points="532.31,377.28 529.02,376.41 527.94,373.12 533.06,374.46" fill="#000" fill-opacity="0.28"/>
<polygon points="523.63,379.28 531.25,381.29 527.72,394.68 520.12,392.68" fill="#c0c0c0"/>
<polygon points="523.63,379.28 531.25,381.29 530.51,384.10 522.89,382.10" fill="#fff" fill-opacity="0.32"/>
<polygon points="520.85,389.87 528.46,391.87 527.72,394.68 520.12,392.68" fill="#000" fill-opacity="0.28"/>
<polygon points="544.11,366.07 540.70,365.17 534.59,370.71 537.16,378.56 540.56,379.46" fill="#0000ff"/>
<polygon points="544.11,366.07 540.70,365.17 538.13,367.50 543.37,368.88" fill="#fff" fill-opacity="0.32"/>
<polygon points="540.56,379.46 537.16,378.56 536.08,375.26 541.31,376.65" fill="#000" fill-opacity="0.28"/>
<polygon points="531.76,381.42 539.49,383.47 535.94,396.86 528.23,394.81" fill="#4682b4"/>
<polygon points="531.76,381.42 539.49,383.47 538.75,386.28 531.02,384.23" fill="#fff" fill-opacity="0.32"/>
<polygon points="528.97,392.00 536.69,394.04 535.94,396.86 528.23,394.81" fill="#000" fill-opacity="0.28"/>
<polygon points="569.54,372.88 548.75,367.30 542.63,372.84 545.18,380.69 565.92,386.25" fill="#0000ff"/>
<polygon points="569.54,372.88 548.75,367.30 546.18,369.63 568.78,375.69" fill="#fff" fill-opacity="0.32"/>
<polygon points="565.92,386.25 545.18,380.69 544.11,377.39 566.68,383.44" fill="#000" fill-opacity="0.28"/>
<polygon points="539.79,383.55 564.84,390.26 561.23,403.63 536.23,396.93" fill="#bdb76b"/>
<polygon points="539.79,383.55 564.84,390.26 564.08,393.06 539.04,386.36" fill="#fff" fill-opacity="0.32"/>
<polygon points="536.98,394.12 561.99,400.82 561.23,403.63 536.23,396.93" fill="#000" fill-opacity="0.28"/>
<polygon points="577.58,375.06 574.46,374.21 568.31,379.72 570.83,387.58 573.95,388.43" fill="#0000ff"/>
<polygon points="577.58,375.06 574.46,374.21 571.88,376.53 576.82,377.87" fill="#fff" fill-opacity="0.32"/>
<polygon points="573.95,388.43 570.83,387.58 569.78,384.28 574.71,385.62" fill="#000" fill-opacity="0.28"/>
<polygon points="565.42,390.41 572.86,392.43 569.23,405.80 561.81,403.78" fill="#f08080"/>
<polygon points="565.42,390.41 572.86,392.43 572.10,395.24 564.66,393.22" fill="#fff" fill-opacity="0.32"/>
<polygon points="562.57,400.98 569.99,402.99 569.23,405.80 561.81,403.78" fill="#000" fill-opacity="0.28"/>
<line x1="-18.65" y1="195.72" x2="-18.13" y2="192.56" stroke="#008000" stroke-width="1.9"/>
<line x1="-32.32" y1="280.02" x2="-32.83" y2="283.18" stroke="#008000" stroke-width="1.9"/>
<line x1="0.73" y1="198.89" x2="1.25" y2="195.74" stroke="#008000" stroke-width="1.9"/>
<line x1="-13.22" y1="283.15" x2="-13.74" y2="286.31" stroke="#008000" stroke-width="1.9"/>
<line x1="20.10" y1="202.13" x2="21.40" y2="194.44" stroke="#008000" stroke-width="2.1"/>
<line x1="5.88" y1="286.34" x2="4.58" y2="294.03" stroke="#008000" stroke-width="2.1"/>
<line x1="39.46" y1="205.44" x2="40.00" y2="202.28" stroke="#008000" stroke-width="1.9"/>
<line x1="24.96" y1="289.60" x2="24.41" y2="292.75" stroke="#008000" stroke-width="1.9"/>
<line x1="58.80" y1="208.80" x2="59.36" y2="205.65" stroke="#008000" stroke-width="1.9"/>
<line x1="44.02" y1="292.91" x2="43.47" y2="296.07" stroke="#008000" stroke-width="1.9"/>
<line x1="78.14" y1="212.23" x2="78.70" y2="209.08" stroke="#008000" stroke-width="1.9"/>
<line x1="63.08" y1="296.29" x2="62.52" y2="299.44" stroke="#008000" stroke-width="1.9"/>
<line x1="97.46" y1="215.73" x2="98.04" y2="212.58" stroke="#008000" stroke-width="1.9"/>
<line x1="82.13" y1="299.74" x2="81.55" y2="302.89" stroke="#008000" stroke-width="1.9"/>
<line x1="116.77" y1="219.28" x2="118.20" y2="211.61" stroke="#008000" stroke-width="2.1"/>
<line x1="101.16" y1="303.24" x2="99.74" y2="310.91" stroke="#008000" stroke-width="2.1"/>
<line x1="136.07" y1="222.90" x2="136.67" y2="219.76" stroke="#008000" stroke-width="1.9"/>
<line x1="120.19" y1="306.81" x2="119.59" y2="309.96" stroke="#008000" stroke-width="1.9"/>
<line x1="155.36" y1="226.59" x2="155.97" y2="223.45" stroke="#008000" stroke-width="1.9"/>
<line x1="139.20" y1="310.44" x2="138.59" y2="313.59" stroke="#008000" stroke-width="1.9"/>
<line x1="174.64" y1="230.34" x2="175.25" y2="227.20" stroke="#008000" stroke-width="1.9"/>
<line x1="158.20" y1="314.14" x2="157.58" y2="317.28" stroke="#008000" stroke-width="1.9"/>
<line x1="193.90" y1="234.15" x2="194.53" y2="231.01" stroke="#008000" stroke-width="1.9"/>
<line x1="177.19" y1="317.90" x2="176.56" y2="321.03" stroke="#008000" stroke-width="1.9"/>
<line x1="213.15" y1="238.02" x2="214.70" y2="230.38" stroke="#008000" stroke-width="2.1"/>
<line x1="196.16" y1="321.71" x2="194.61" y2="329.36" stroke="#008000" stroke-width="2.1"/>
<line x1="232.39" y1="241.96" x2="233.04" y2="238.83" stroke="#008000" stroke-width="1.9"/>
<line x1="215.12" y1="325.60" x2="214.48" y2="328.73" stroke="#008000" stroke-width="1.9"/>
<line x1="251.61" y1="245.96" x2="252.27" y2="242.83" stroke="#008000" stroke-width="1.9"/>
<line x1="234.07" y1="329.54" x2="233.42" y2="332.67" stroke="#008000" stroke-width="1.9"/>
<line x1="270.82" y1="250.02" x2="271.49" y2="246.90" stroke="#008000" stroke-width="1.9"/>
<line x1="253.01" y1="333.55" x2="252.34" y2="336.68" stroke="#008000" stroke-width="1.9"/>
<line x1="290.02" y1="254.15" x2="290.70" y2="251.03" stroke="#008000" stroke-width="1.9"/>
<line x1="271.93" y1="337.61" x2="271.26" y2="340.74" stroke="#008000" stroke-width="1.9"/>
<line x1="309.21" y1="258.34" x2="310.88" y2="250.73" stroke="#008000" stroke-width="2.1"/>
<line x1="290.84" y1="341.75" x2="289.17" y2="349.36" stroke="#008000" stroke-width="2.1"/>
<line x1="328.38" y1="262.60" x2="329.08" y2="259.47" stroke="#008000" stroke-width="1.9"/>
<line x1="309.74" y1="345.94" x2="309.04" y2="349.06" stroke="#008000" stroke-width="1.9"/>
<line x1="347.53" y1="266.91" x2="348.24" y2="263.79" stroke="#008000" stroke-width="1.9"/>
<line x1="328.62" y1="350.19" x2="327.91" y2="353.31" stroke="#008000" stroke-width="1.9"/>
<line x1="366.68" y1="271.30" x2="367.39" y2="268.18" stroke="#008000" stroke-width="1.9"/>
<line x1="347.49" y1="354.51" x2="346.77" y2="357.63" stroke="#008000" stroke-width="1.9"/>
<line x1="385.80" y1="275.74" x2="386.53" y2="272.62" stroke="#008000" stroke-width="1.9"/>
<line x1="366.34" y1="358.89" x2="365.61" y2="362.01" stroke="#008000" stroke-width="1.9"/>
<line x1="404.92" y1="280.24" x2="406.72" y2="272.66" stroke="#008000" stroke-width="2.1"/>
<line x1="385.18" y1="363.33" x2="383.38" y2="370.92" stroke="#008000" stroke-width="2.1"/>
<line x1="424.01" y1="284.81" x2="424.76" y2="281.70" stroke="#008000" stroke-width="1.9"/>
<line x1="404.01" y1="367.84" x2="403.26" y2="370.95" stroke="#008000" stroke-width="1.9"/>
<line x1="443.10" y1="289.45" x2="443.86" y2="286.34" stroke="#008000" stroke-width="1.9"/>
<line x1="422.82" y1="372.40" x2="422.06" y2="375.51" stroke="#008000" stroke-width="1.9"/>
<line x1="462.16" y1="294.14" x2="462.93" y2="291.03" stroke="#008000" stroke-width="1.9"/>
<line x1="441.61" y1="377.03" x2="440.84" y2="380.14" stroke="#008000" stroke-width="1.9"/>
<line x1="481.22" y1="298.90" x2="482.00" y2="295.79" stroke="#008000" stroke-width="1.9"/>
<line x1="460.39" y1="381.72" x2="459.61" y2="384.82" stroke="#008000" stroke-width="1.9"/>
<line x1="500.25" y1="303.72" x2="502.18" y2="296.16" stroke="#008000" stroke-width="2.1"/>
<line x1="479.15" y1="386.47" x2="477.22" y2="394.03" stroke="#008000" stroke-width="2.1"/>
<line x1="519.27" y1="308.60" x2="520.07" y2="305.50" stroke="#008000" stroke-width="1.9"/>
<line x1="497.90" y1="391.28" x2="497.10" y2="394.38" stroke="#008000" stroke-width="1.9"/>
<line x1="538.28" y1="313.55" x2="539.09" y2="310.45" stroke="#008000" stroke-width="1.9"/>
<line x1="516.63" y1="396.16" x2="515.82" y2="399.25" stroke="#008000" stroke-width="1.9"/>
<line x1="557.26" y1="318.55" x2="558.08" y2="315.46" stroke="#008000" stroke-width="1.9"/>
<line x1="535.35" y1="401.09" x2="534.53" y2="404.19" stroke="#008000" stroke-width="1.9"/>
<line x1="576.23" y1="323.63" x2="577.06" y2="320.53" stroke="#008000" stroke-width="1.9"/>
<line x1="554.05" y1="406.09" x2="553.21" y2="409.18" stroke="#008000" stroke-width="1.9"/>
<line x1="595.19" y1="328.76" x2="597.24" y2="321.23" stroke="#008000" stroke-width="2.1"/>
<line x1="572.73" y1="411.15" x2="570.68" y2="418.68" stroke="#008000" stroke-width="2.1"/>
<line x1="614.12" y1="333.95" x2="614.98" y2="330.87" stroke="#008000" stroke-width="1.9"/>
<line x1="591.39" y1="416.27" x2="590.54" y2="419.36" stroke="#008000" stroke-width="1.9"/>
<line x1="633.04" y1="339.21" x2="633.91" y2="336.13" stroke="#008000" stroke-width="1.9"/>
<line x1="610.04" y1="421.46" x2="609.18" y2="424.54" stroke="#008000" stroke-width="1.9"/>
<line x1="8.70" y1="188.36" x2="10.75" y2="139.5" stroke="#ff0000" stroke-width="1"/>
<line x1="50.30" y1="195.44" x2="37.5" y2="142.5" stroke="#ff0000" stroke-width="1"/>
<line x1="66.34" y1="198.25" x2="66.25" y2="149.5" stroke="#ff0000" stroke-width="1"/>
<line x1="98.19" y1="203.97" x2="96.4" y2="153" stroke="#ff0000" stroke-width="1"/>
<line x1="135.34" y1="210.86" x2="122" y2="159" stroke="#ff0000" stroke-width="1"/>
<line x1="150.25" y1="213.69" x2="148.6" y2="164.6" stroke="#ff0000" stroke-width="1"/>
<line x1="158.42" y1="215.26" x2="178.4" y2="170.4" stroke="#ff0000" stroke-width="1"/>
<line x1="165.27" y1="216.59" x2="206.6" y2="176" stroke="#ff0000" stroke-width="1"/>
<line x1="173.95" y1="218.28" x2="234" y2="181.4" stroke="#ff0000" stroke-width="1"/>
<line x1="190.58" y1="221.56" x2="264.4" y2="187.6" stroke="#ff0000" stroke-width="1"/>
<line x1="343.60" y1="254.03" x2="292.4" y2="193.6" stroke="#ff0000" stroke-width="1"/>
<line x1="369.28" y1="259.89" x2="318.6" y2="197.4" stroke="#ff0000" stroke-width="1"/>
<line x1="394.27" y1="265.71" x2="349.4" y2="204.4" stroke="#ff0000" stroke-width="1"/>
<line x1="409.31" y1="269.26" x2="378" y2="211" stroke="#ff0000" stroke-width="1"/>
<line x1="417.38" y1="271.19" x2="407.4" y2="217.6" stroke="#ff0000" stroke-width="1"/>
<line x1="431.09" y1="274.49" x2="437.6" y2="225" stroke="#ff0000" stroke-width="1"/>
<line x1="463.24" y1="282.35" x2="466.7" y2="221.8" stroke="#ff0000" stroke-width="1"/>
<line x1="472.45" y1="284.64" x2="487" y2="238.75" stroke="#ff0000" stroke-width="1"/>
<line x1="503.10" y1="292.37" x2="512.5" y2="245.75" stroke="#ff0000" stroke-width="1"/>
<line x1="518.35" y1="296.28" x2="535.5" y2="251.25" stroke="#ff0000" stroke-width="1"/>
<line x1="532.12" y1="299.85" x2="566.25" y2="257.5" stroke="#ff0000" stroke-width="1"/>
<line x1="61.31" y1="307.86" x2="13.75" y2="347.5" stroke="#0000ff" stroke-width="1"/>
<line x1="68.09" y1="309.08" x2="41.25" y2="352.5" stroke="#0000ff" stroke-width="1"/>
<line x1="99.31" y1="314.80" x2="67" y2="357" stroke="#0000ff" stroke-width="1"/>
<line x1="121.23" y1="318.92" x2="91.25" y2="360" stroke="#0000ff" stroke-width="1"/>
<line x1="160.72" y1="326.56" x2="117" y2="366.25" stroke="#0000ff" stroke-width="1"/>
<line x1="178.40" y1="330.07" x2="148" y2="371.75" stroke="#0000ff" stroke-width="1"/>
<line x1="186.30" y1="331.66" x2="173" y2="396.5" stroke="#0000ff" stroke-width="1"/>
<line x1="217.75" y1="338.09" x2="203.75" y2="403.75" stroke="#0000ff" stroke-width="1"/>
<line x1="197.00" y1="333.82" x2="179.5" y2="418.75" stroke="#0000ff" stroke-width="1"/>
<line x1="248.97" y1="344.65" x2="235" y2="410" stroke="#0000ff" stroke-width="1"/>
<line x1="232.88" y1="341.24" x2="215.5" y2="424.5" stroke="#0000ff" stroke-width="1"/>
<line x1="205.79" y1="335.62" x2="183.75" y2="440.75" stroke="#0000ff" stroke-width="1"/>
<line x1="211.72" y1="336.84" x2="186.25" y2="461.25" stroke="#0000ff" stroke-width="1"/>
<line x1="256.15" y1="346.18" x2="235" y2="441.25" stroke="#0000ff" stroke-width="1"/>
<line x1="264.66" y1="348.01" x2="240" y2="460.75" stroke="#0000ff" stroke-width="1"/>
<line x1="273.33" y1="349.89" x2="256.25" y2="425" stroke="#0000ff" stroke-width="1"/>
<line x1="285.02" y1="352.44" x2="274.25" y2="398.75" stroke="#0000ff" stroke-width="1"/>
<line x1="291.88" y1="353.96" x2="303" y2="402.5" stroke="#0000ff" stroke-width="1"/>
<line x1="299.02" y1="355.54" x2="330.5" y2="409.5" stroke="#0000ff" stroke-width="1"/>
<line x1="304.98" y1="356.86" x2="357" y2="417.5" stroke="#0000ff" stroke-width="1"/>
<line x1="422.31" y1="384.32" x2="385.6" y2="422" stroke="#0000ff" stroke-width="1"/>
<line x1="451.09" y1="391.45" x2="416.25" y2="431.25" stroke="#0000ff" stroke-width="1"/>
<line x1="458.12" y1="393.21" x2="444.25" y2="436.25" stroke="#0000ff" stroke-width="1"/>
<line x1="465.07" y1="394.97" x2="469.5" y2="442.5" stroke="#0000ff" stroke-width="1"/>
<line x1="512.75" y1="407.24" x2="498.1" y2="452.4" stroke="#0000ff" stroke-width="1"/>
<line x1="519.86" y1="409.10" x2="525.9" y2="459.3" stroke="#0000ff" stroke-width="1"/>
<line x1="528.00" y1="411.25" x2="554.5" y2="467.6" stroke="#0000ff" stroke-width="1"/>
<line x1="544.61" y1="415.67" x2="583.8" y2="475.2" stroke="#0000ff" stroke-width="1"/>
<rect x="4.90" y="127.50" width="15.60" height="10.6" fill="#fff" fill-opacity="0.8"/>
<rect x="25.90" y="131.80" width="22.90" height="10.6" fill="#fff" fill-opacity="0.8"/>
<rect x="56.20" y="137.10" width="22.60" height="10.6" fill="#fff" fill-opacity="0.8"/>
<rect x="85.20" y="141.80" width="25.20" height="10.6" fill="#fff" fill-opacity="0.8"/>
<rect x="116.20" y="146.30" width="16.00" height="10.6" fill="#fff" fill-opacity="0.8"/>
<rect x="136.20" y="151.80" width="25.00" height="10.6" fill="#fff" fill-opacity="0.8"/>
<rect x="166.20" y="157.80" width="25.00" height="10.6" fill="#fff" fill-opacity="0.8"/>
<rect x="197.20" y="163.40" width="21.20" height="10.6" fill="#fff" fill-opacity="0.8"/>
<rect x="223.20" y="168.40" width="23.60" height="10.6" fill="#fff" fill-opacity="0.8"/>
<rect x="252.20" y="174.20" width="25.00" height="10.6" fill="#fff" fill-opacity="0.8"/>
<rect x="282.80" y="179.80" width="22.40" height="10.6" fill="#fff" fill-opacity="0.8"/>
<rect x="307.80" y="186.40" width="24.00" height="10.6" fill="#fff" fill-opacity="0.8"/>
<rect x="338.20" y="193.40" width="24.20" height="10.6" fill="#fff" fill-opacity="0.8"/>
<rect x="366.60" y="200.00" width="23.60" height="10.6" fill="#fff" fill-opacity="0.8"/>
<rect x="396.20" y="207.00" width="24.20" height="10.6" fill="#fff" fill-opacity="0.8"/>
<rect x="426.20" y="213.40" width="22.60" height="10.6" fill="#fff" fill-opacity="0.8"/>
<rect x="457.95" y="210.40" width="20.60" height="10.6" fill="#fff" fill-opacity="0.8"/>
<rect x="475.95" y="225.65" width="23.60" height="10.6" fill="#fff" fill-opacity="0.8"/>
<rect x="506.20" y="233.10" width="16.35" height="10.6" fill="#fff" fill-opacity="0.8"/>
<rect x="524.95" y="238.65" width="25.10" height="10.6" fill="#fff" fill-opacity="0.8"/>
<rect x="554.95" y="246.90" width="23.85" height="10.6" fill="#fff" fill-opacity="0.8"/>
<rect x="1.70" y="348.05" width="23.35" height="10.6" fill="#fff" fill-opacity="0.8"/>
<rect x="29.20" y="353.05" width="24.10" height="10.6" fill="#fff" fill-opacity="0.8"/>
<rect x="59.20" y="358.05" width="16.60" height="10.6" fill="#fff" fill-opacity="0.8"/>
<rect x="82.95" y="359.30" width="17.10" height="10.6" fill="#fff" fill-opacity="0.8"/>
<rect x="104.70" y="366.80" width="25.35" height="10.6" fill="#fff" fill-opacity="0.8"/>
<rect x="135.95" y="373.05" width="24.85" height="10.6" fill="#fff" fill-opacity="0.8"/>
<rect x="160.95" y="398.05" width="24.10" height="10.6" fill="#fff" fill-opacity="0.8"/>
<rect x="190.45" y="405.05" width="26.60" height="10.6" fill="#fff" fill-opacity="0.8"/>
<rect x="166.20" y="421.30" width="24.60" height="10.6" fill="#fff" fill-opacity="0.8"/>
<rect x="221.70" y="410.55" width="24.60" height="10.6" fill="#fff" fill-opacity="0.8"/>
<rect x="204.70" y="425.55" width="20.60" height="10.6" fill="#fff" fill-opacity="0.8"/>
<rect x="171.20" y="441.80" width="25.35" height="10.6" fill="#fff" fill-opacity="0.8"/>
<rect x="173.45" y="463.05" width="23.60" height="10.6" fill="#fff" fill-opacity="0.8"/>
<rect x="222.20" y="442.55" width="24.85" height="10.6" fill="#fff" fill-opacity="0.8"/>
<rect x="229.20" y="461.80" width="21.60" height="10.6" fill="#fff" fill-opacity="0.8"/>
<rect x="245.45" y="426.05" width="23.35" height="10.6" fill="#fff" fill-opacity="0.8"/>
<rect x="262.20" y="399.80" width="24.10" height="10.6" fill="#fff" fill-opacity="0.8"/>
<rect x="289.70" y="403.55" width="24.85" height="10.6" fill="#fff" fill-opacity="0.8"/>
<rect x="318.70" y="410.55" width="21.60" height="10.6" fill="#fff" fill-opacity="0.8"/>
<rect x="346.70" y="418.05" width="17.85" height="10.6" fill="#fff" fill-opacity="0.8"/>
<rect x="371.70" y="422.80" width="26.90" height="10.6" fill="#fff" fill-opacity="0.8"/>
<rect x="404.20" y="432.55" width="23.60" height="10.6" fill="#fff" fill-opacity="0.8"/>
<rect x="432.95" y="437.55" width="20.85" height="10.6" fill="#fff" fill-opacity="0.8"/>
<rect x="458.70" y="443.05" width="19.60" height="10.6" fill="#fff" fill-opacity="0.8"/>
<rect x="485.20" y="453.00" width="25.30" height="10.6" fill="#fff" fill-opacity="0.8"/>
<rect x="514.05" y="460.20" width="21.35" height="10.6" fill="#fff" fill-opacity="0.8"/>
<rect x="540.70" y="468.00" width="25.40" height="10.6" fill="#fff" fill-opacity="0.8"/>
<rect x="572.10" y="476.10" width="21.80" height="10.6" fill="#fff" fill-opacity="0.8"/>
<rect x="81.50" y="318.55" width="34.50" height="10.6" fill="#fff" fill-opacity="0.8"/>
<rect x="176.50" y="336.90" width="34.50" height="10.6" fill="#fff" fill-opacity="0.8"/>
<rect x="270.25" y="356.70" width="35.00" height="10.6" fill="#fff" fill-opacity="0.8"/>
<rect x="364.50" y="378.55" width="35.00" height="10.6" fill="#fff" fill-opacity="0.8"/>
<rect x="458.50" y="401.65" width="34.50" height="10.6" fill="#fff" fill-opacity="0.8"/>
<rect x="551.80" y="425.60" width="34.60" height="10.6" fill="#fff" fill-opacity="0.8"/>
<g mask="url(#m)">
<text transform="translate(5.70,135.60) scale(0.84,1)" font-size="10.3" font-family="Liberation Sans, sans-serif" fill="#ff0000" stroke="#ff0000" stroke-width="0.22" textLength="16.31" lengthAdjust="spacing">lpd</text>
<text transform="translate(26.70,139.90) scale(0.84,1)" font-size="10.3" font-family="Liberation Sans, sans-serif" fill="#ff0000" stroke="#ff0000" stroke-width="0.22" textLength="25.00" lengthAdjust="spacing">acnB</text>
<text transform="translate(57.00,145.20) scale(0.84,1)" font-size="10.3" font-family="Liberation Sans, sans-serif" fill="#ff0000" stroke="#ff0000" stroke-width="0.22" textLength="24.64" lengthAdjust="spacing">yacL</text>
<text transform="translate(86.00,149.90) scale(0.84,1)" font-size="10.3" font-family="Liberation Sans, sans-serif" fill="#ff0000" stroke="#ff0000" stroke-width="0.22" textLength="27.74" lengthAdjust="spacing">cueO</text>
<text transform="translate(117.00,154.40) scale(0.84,1)" font-size="10.3" font-family="Liberation Sans, sans-serif" fill="#ff0000" stroke="#ff0000" stroke-width="0.22" textLength="16.79" lengthAdjust="spacing">hpt</text>
<text transform="translate(137.00,159.90) scale(0.84,1)" font-size="10.3" font-family="Liberation Sans, sans-serif" fill="#ff0000" stroke="#ff0000" stroke-width="0.22" textLength="27.50" lengthAdjust="spacing">yadG</text>
<text transform="translate(167.00,165.90) scale(0.84,1)" font-size="10.3" font-family="Liberation Sans, sans-serif" fill="#ff0000" stroke="#ff0000" stroke-width="0.22" textLength="27.50" lengthAdjust="spacing">yadH</text>
<text transform="translate(198.00,171.50) scale(0.84,1)" font-size="10.3" font-family="Liberation Sans, sans-serif" fill="#ff0000" stroke="#ff0000" stroke-width="0.22" textLength="22.98" lengthAdjust="spacing">yadI</text>
<text transform="translate(224.00,176.50) scale(0.84,1)" font-size="10.3" font-family="Liberation Sans, sans-serif" fill="#ff0000" stroke="#ff0000" stroke-width="0.22" textLength="25.83" lengthAdjust="spacing">yadE</text>
<text transform="translate(253.00,182.30) scale(0.84,1)" font-size="10.3" font-family="Liberation Sans, sans-serif" fill="#ff0000" stroke="#ff0000" stroke-width="0.22" textLength="27.50" lengthAdjust="spacing">yadD</text>
<text transform="translate(283.60,187.90) scale(0.84,1)" font-size="10.3" font-family="Liberation Sans, sans-serif" fill="#ff0000" stroke="#ff0000" stroke-width="0.22" textLength="24.40" lengthAdjust="spacing">hrpB</text>
<text transform="translate(308.60,194.50) scale(0.84,1)" font-size="10.3" font-family="Liberation Sans, sans-serif" fill="#ff0000" stroke="#ff0000" stroke-width="0.22" textLength="26.31" lengthAdjust="spacing">mrcB</text>
<text transform="translate(339.00,201.50) scale(0.84,1)" font-size="10.3" font-family="Liberation Sans, sans-serif" fill="#ff0000" stroke="#ff0000" stroke-width="0.22" textLength="26.55" lengthAdjust="spacing">fhuA</text>
<text transform="translate(367.40,208.10) scale(0.84,1)" font-size="10.3" font-family="Liberation Sans, sans-serif" fill="#ff0000" stroke="#ff0000" stroke-width="0.22" textLength="25.83" lengthAdjust="spacing">fhuC</text>
<text transform="translate(397.00,215.10) scale(0.84,1)" font-size="10.3" font-family="Liberation Sans, sans-serif" fill="#ff0000" stroke="#ff0000" stroke-width="0.22" textLength="26.55" lengthAdjust="spacing">fhuD</text>
<text transform="translate(427.00,221.50) scale(0.84,1)" font-size="10.3" font-family="Liberation Sans, sans-serif" fill="#ff0000" stroke="#ff0000" stroke-width="0.22" textLength="24.64" lengthAdjust="spacing">fhuB</text>
<text transform="translate(458.75,218.50) scale(0.84,1)" font-size="10.3" font-family="Liberation Sans, sans-serif" fill="#ff0000" stroke="#ff0000" stroke-width="0.22" textLength="22.26" lengthAdjust="spacing">clcA</text>
<text transform="translate(476.75,233.75) scale(0.84,1)" font-size="10.3" font-family="Liberation Sans, sans-serif" fill="#ff0000" stroke="#ff0000" stroke-width="0.22" textLength="25.83" lengthAdjust="spacing">erpA</text>
<text transform="translate(507.00,241.20) scale(0.84,1)" font-size="10.3" font-family="Liberation Sans, sans-serif" fill="#ff0000" stroke="#ff0000" stroke-width="0.22" textLength="17.20" lengthAdjust="spacing">dgt</text>
<text transform="translate(525.75,246.75) scale(0.84,1)" font-size="10.3" font-family="Liberation Sans, sans-serif" fill="#ff0000" stroke="#ff0000" stroke-width="0.22" textLength="27.62" lengthAdjust="spacing">degP</text>
<text transform="translate(555.75,255.00) scale(0.84,1)" font-size="10.3" font-family="Liberation Sans, sans-serif" fill="#ff0000" stroke="#ff0000" stroke-width="0.22" textLength="26.13" lengthAdjust="spacing">cdaR</text>
<text transform="translate(2.50,357.05) scale(0.84,1)" font-size="10.3" font-family="Liberation Sans, sans-serif" fill="#0000ff" stroke="#0000ff" stroke-width="0.22" textLength="25.54" lengthAdjust="spacing">speE</text>
<text transform="translate(30.00,362.05) scale(0.84,1)" font-size="10.3" font-family="Liberation Sans, sans-serif" fill="#0000ff" stroke="#0000ff" stroke-width="0.22" textLength="26.43" lengthAdjust="spacing">yacC</text>
<text transform="translate(60.00,367.05) scale(0.84,1)" font-size="10.3" font-family="Liberation Sans, sans-serif" fill="#0000ff" stroke="#0000ff" stroke-width="0.22" textLength="17.50" lengthAdjust="spacing">gcd</text>
<text transform="translate(83.75,368.30) scale(0.84,1)" font-size="10.3" font-family="Liberation Sans, sans-serif" fill="#0000ff" stroke="#0000ff" stroke-width="0.22" textLength="18.10" lengthAdjust="spacing">can</text>
<text transform="translate(105.50,375.80) scale(0.84,1)" font-size="10.3" font-family="Liberation Sans, sans-serif" fill="#0000ff" stroke="#0000ff" stroke-width="0.22" textLength="27.92" lengthAdjust="spacing">panD</text>
<text transform="translate(136.75,382.05) scale(0.84,1)" font-size="10.3" font-family="Liberation Sans, sans-serif" fill="#0000ff" stroke="#0000ff" stroke-width="0.22" textLength="27.32" lengthAdjust="spacing">panC</text>
<text transform="translate(161.75,407.05) scale(0.84,1)" font-size="10.3" font-family="Liberation Sans, sans-serif" fill="#0000ff" stroke="#0000ff" stroke-width="0.22" textLength="26.43" lengthAdjust="spacing">panB</text>
<text transform="translate(191.25,414.05) scale(0.84,1)" font-size="10.3" font-family="Liberation Sans, sans-serif" fill="#0000ff" stroke="#0000ff" stroke-width="0.22" textLength="29.40" lengthAdjust="spacing">yadM</text>
<text transform="translate(167.00,430.30) scale(0.84,1)" font-size="10.3" font-family="Liberation Sans, sans-serif" fill="#0000ff" stroke="#0000ff" stroke-width="0.22" textLength="27.02" lengthAdjust="spacing">yadC</text>
<text transform="translate(222.50,419.55) scale(0.84,1)" font-size="10.3" font-family="Liberation Sans, sans-serif" fill="#0000ff" stroke="#0000ff" stroke-width="0.22" textLength="27.02" lengthAdjust="spacing">ecpD</text>
<text transform="translate(205.50,434.55) scale(0.84,1)" font-size="10.3" font-family="Liberation Sans, sans-serif" fill="#0000ff" stroke="#0000ff" stroke-width="0.22" textLength="22.26" lengthAdjust="spacing">htrE</text>
<text transform="translate(172.00,450.80) scale(0.84,1)" font-size="10.3" font-family="Liberation Sans, sans-serif" fill="#0000ff" stroke="#0000ff" stroke-width="0.22" textLength="27.92" lengthAdjust="spacing">yadK</text>
<text transform="translate(174.25,472.05) scale(0.84,1)" font-size="10.3" font-family="Liberation Sans, sans-serif" fill="#0000ff" stroke="#0000ff" stroke-width="0.22" textLength="25.83" lengthAdjust="spacing">yadL</text>
<text transform="translate(223.00,451.55) scale(0.84,1)" font-size="10.3" font-family="Liberation Sans, sans-serif" fill="#0000ff" stroke="#0000ff" stroke-width="0.22" textLength="27.32" lengthAdjust="spacing">yadN</text>
<text transform="translate(230.00,470.80) scale(0.84,1)" font-size="10.3" font-family="Liberation Sans, sans-serif" fill="#0000ff" stroke="#0000ff" stroke-width="0.22" textLength="23.45" lengthAdjust="spacing">folK</text>
<text transform="translate(246.25,435.05) scale(0.84,1)" font-size="10.3" font-family="Liberation Sans, sans-serif" fill="#0000ff" stroke="#0000ff" stroke-width="0.22" textLength="25.54" lengthAdjust="spacing">pcnB</text>
<text transform="translate(263.00,408.80) scale(0.84,1)" font-size="10.3" font-family="Liberation Sans, sans-serif" fill="#0000ff" stroke="#0000ff" stroke-width="0.22" textLength="26.43" lengthAdjust="spacing">yadB</text>
<text transform="translate(290.50,412.55) scale(0.84,1)" font-size="10.3" font-family="Liberation Sans, sans-serif" fill="#0000ff" stroke="#0000ff" stroke-width="0.22" textLength="27.32" lengthAdjust="spacing">dksA</text>
<text transform="translate(319.50,419.55) scale(0.84,1)" font-size="10.3" font-family="Liberation Sans, sans-serif" fill="#0000ff" stroke="#0000ff" stroke-width="0.22" textLength="23.45" lengthAdjust="spacing">sfsA</text>
<text transform="translate(347.50,427.05) scale(0.84,1)" font-size="10.3" font-family="Liberation Sans, sans-serif" fill="#0000ff" stroke="#0000ff" stroke-width="0.22" textLength="18.99" lengthAdjust="spacing">ligT</text>
<text transform="translate(372.50,431.80) scale(0.84,1)" font-size="10.3" font-family="Liberation Sans, sans-serif" fill="#0000ff" stroke="#0000ff" stroke-width="0.22" textLength="29.76" lengthAdjust="spacing">hemL</text>
<text transform="translate(405.00,441.55) scale(0.84,1)" font-size="10.3" font-family="Liberation Sans, sans-serif" fill="#0000ff" stroke="#0000ff" stroke-width="0.22" textLength="25.83" lengthAdjust="spacing">yadS</text>
<text transform="translate(433.75,446.55) scale(0.84,1)" font-size="10.3" font-family="Liberation Sans, sans-serif" fill="#0000ff" stroke="#0000ff" stroke-width="0.22" textLength="22.56" lengthAdjust="spacing">btuF</text>
<text transform="translate(459.50,452.05) scale(0.84,1)" font-size="10.3" font-family="Liberation Sans, sans-serif" fill="#0000ff" stroke="#0000ff" stroke-width="0.22" textLength="21.07" lengthAdjust="spacing">mtn</text>
<text transform="translate(486.00,462.00) scale(0.84,1)" font-size="10.3" font-family="Liberation Sans, sans-serif" fill="#0000ff" stroke="#0000ff" stroke-width="0.22" textLength="27.86" lengthAdjust="spacing">yaeH</text>
<text transform="translate(514.85,469.20) scale(0.84,1)" font-size="10.3" font-family="Liberation Sans, sans-serif" fill="#0000ff" stroke="#0000ff" stroke-width="0.22" textLength="23.15" lengthAdjust="spacing">yaeI</text>
<text transform="translate(541.50,477.00) scale(0.84,1)" font-size="10.3" font-family="Liberation Sans, sans-serif" fill="#0000ff" stroke="#0000ff" stroke-width="0.22" textLength="27.98" lengthAdjust="spacing">dapD</text>
<text transform="translate(572.90,485.10) scale(0.84,1)" font-size="10.3" font-family="Liberation Sans, sans-serif" fill="#0000ff" stroke="#0000ff" stroke-width="0.22" textLength="23.69" lengthAdjust="spacing">glnD</text>
<text x="82.5" y="326.95" font-size="8.5" font-family="Liberation Sans, sans-serif" fill="#000" textLength="32.5" lengthAdjust="spacingAndGlyphs">140 kbp</text>
<text x="177.5" y="345.3" font-size="8.5" font-family="Liberation Sans, sans-serif" fill="#000" textLength="32.5" lengthAdjust="spacingAndGlyphs">150 kbp</text>
<text x="271.25" y="365.1" font-size="8.5" font-family="Liberation Sans, sans-serif" fill="#000" textLength="33" lengthAdjust="spacingAndGlyphs">160 kbp</text>
<text x="365.5" y="386.95" font-size="8.5" font-family="Liberation Sans, sans-serif" fill="#000" textLength="33" lengthAdjust="spacingAndGlyphs">170 kbp</text>
<text x="459.5" y="410.05" font-size="8.5" font-family="Liberation Sans, sans-serif" fill="#000" textLength="32.5" lengthAdjust="spacingAndGlyphs">180 kbp</text>
<text x="552.8" y="434.0" font-size="8.5" font-family="Liberation Sans, sans-serif" fill="#000" textLength="32.6" lengthAdjust="spacingAndGlyphs">190 kbp</text>
<text x="77" y="22.6" font-size="12.8" font-style="italic" font-family="Liberation Sans, sans-serif" fill="#111" textLength="75" lengthAdjust="spacing">Escherichia</text>
<text x="158" y="22.6" font-size="12.8" font-style="italic" font-family="Liberation Sans, sans-serif" fill="#111" textLength="22.5" lengthAdjust="spacing">coli</text>
<text x="186.6" y="22.6" font-size="12.8" font-style="italic" font-family="Liberation Sans, sans-serif" fill="#111" textLength="19.8" lengthAdjust="spacing">str.</text>
<text x="211.5" y="22.6" font-size="12.8" font-style="italic" font-family="Liberation Sans, sans-serif" fill="#111" textLength="33" lengthAdjust="spacing">K-12</text>
<text x="251.4" y="22.6" font-size="12.8" font-style="italic" font-family="Liberation Sans, sans-serif" fill="#111" textLength="44.1" lengthAdjust="spacing">substr.</text>
<text x="302.2" y="22.6" font-size="12.8" font-style="italic" font-family="Liberation Sans, sans-serif" fill="#111" textLength="56.8" lengthAdjust="spacing">MG1655</text>
<text x="364.4" y="22.6" font-size="12.8" font-style="italic" font-family="Liberation Sans, sans-serif" fill="#111" textLength="92.1" lengthAdjust="spacing">chromosome,</text>
<text x="463.4" y="22.6" font-size="12.8" font-style="italic" font-family="Liberation Sans, sans-serif" fill="#111" textLength="58.2" lengthAdjust="spacing">comple...</text>
<text x="9" y="586.4" font-size="12" font-family="Liberation Sans, sans-serif" fill="#111" textLength="58.7" lengthAdjust="spacingAndGlyphs">Accession:</text>
<text x="73.3" y="586.4" font-size="12" font-family="Liberation Sans, sans-serif" fill="#111" textLength="69.4" lengthAdjust="spacingAndGlyphs">NC_000913</text>
<text x="262.3" y="586.4" font-size="12" font-family="Liberation Sans, sans-serif" fill="#111" textLength="55.4" lengthAdjust="spacingAndGlyphs">Topology:</text>
<text x="324.1" y="586.4" font-size="12" font-family="Liberation Sans, sans-serif" fill="#111" textLength="43.1" lengthAdjust="spacingAndGlyphs">circular;</text>
<text x="373.1" y="586.4" font-size="12" font-family="Liberation Sans, sans-serif" fill="#111" textLength="39.3" lengthAdjust="spacingAndGlyphs">Length:</text>
<text x="419.6" y="586.4" font-size="12" font-family="Liberation Sans, sans-serif" fill="#111" textLength="61.7" lengthAdjust="spacingAndGlyphs">4,639,675</text>
<text x="487.5" y="586.4" font-size="12" font-family="Liberation Sans, sans-serif" fill="#111" textLength="17.8" lengthAdjust="spacingAndGlyphs">bp;</text>
<text x="512.1" y="586.4" font-size="12" font-family="Liberation Sans, sans-serif" fill="#111" textLength="37" lengthAdjust="spacingAndGlyphs">Genes:</text>
<text x="556.2" y="586.4" font-size="12" font-family="Liberation Sans, sans-serif" fill="#111" textLength="33.6" lengthAdjust="spacingAndGlyphs">4,255</text>
</g>
</svg></body></html>
